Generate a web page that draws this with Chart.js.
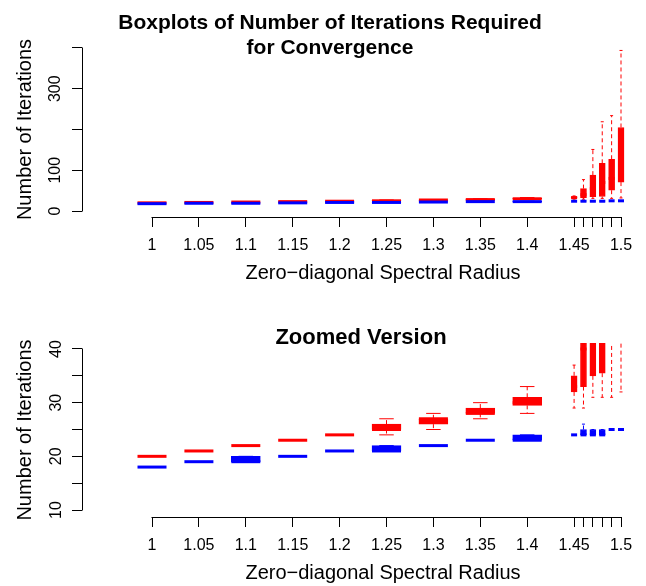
<!DOCTYPE html>
<html>
<head>
<meta charset="utf-8">
<script src="https://cdn.jsdelivr.net/npm/chart.js@4.4.1/dist/chart.umd.min.js"></script>
<style>
html, body { margin: 0; padding: 0; background: #fff; overflow: hidden; width: 646px; height: 586px; }
#wrap { position: relative; width: 646px; height: 586px; overflow: hidden; }
canvas { position: absolute; left: 0; }
#c1 { top: 0; }
#c2 { top: 293px; }
</style>
</head>
<body>
<div id="wrap">
  <canvas id="c1" width="684" height="293"></canvas>
  <canvas id="c2" width="684" height="293"></canvas>
</div>
<script>
// ---- data ----
const radii = [1, 1.05, 1.1, 1.15, 1.2, 1.25, 1.3, 1.35, 1.4, 1.45, 1.46, 1.47, 1.48, 1.49, 1.5];
const radiusLabels = ['1', '1.05', '1.1', '1.15', '1.2', '1.25', '1.3', '1.35', '1.4', '1.45', '', '', '', '', '1.5'];

// red series: five-number summaries
const redMin = [20, 21, 22, 23, 24, 24, 25, 27, 28, 29, 29, 31, 31, 31, 32];
const redQ1  = [20, 21, 22, 23, 24, 25, 26, 28, 29.5, 32, 33, 35, 35.5, 51, 71];
const redMed = [20, 21, 22, 23, 24, 25, 27, 28, 30, 33, 40, 55, 70, 80, 120];
const redQ3  = [20, 21, 22, 23, 24, 26, 27, 29, 31, 35, 55, 88, 117, 127, 205];
const redMax = [20, 21, 22, 23, 24, 27, 28, 30, 33, 37, 77, 151, 219, 234, 394];

// blue series: five-number summaries
const blueMin = [18, 19, 19, 20, 21, 21, 22, 23, 23, 24, 24, 24, 24, 25, 25];
const blueQ1  = [18, 19, 19, 20, 21, 21, 22, 23, 23, 24, 24, 24, 24, 25, 25];
const blueMed = [18, 19, 19, 20, 21, 21, 22, 23, 23, 24, 24, 24, 24, 25, 25];
const blueQ3  = [18, 19, 20, 20, 21, 22, 22, 23, 24, 24, 25, 25, 25, 25, 25];
const blueMax = [18, 19, 20, 20, 21, 22, 22, 23, 24, 24, 26, 25, 25, 25, 25];

const yTicksTop = [0, 100, 200, 300, 400];
const yLabelsTop = ['0', '100', '', '300', ''];
const yTicksZoom = [10, 15, 20, 25, 30, 35, 40];
const yLabelsZoom = ['10', '', '20', '', '30', '', '40'];

// ---- styling ----
const RED = '#FF0000';
const BLUE = '#0000FF';
const WIDE_COUNT = 9;
Chart.defaults.font.family = "'Liberation Sans', Arial, Helvetica, sans-serif";
Chart.defaults.color = '#000';

function boxDatasets(color, mins, q1s, meds, q3s, maxs, order) {
  const all = radii.map((r, i) => i);
  const groups = [
    { idx: all.filter(i => i < WIDE_COUNT), w: 29 },
    { idx: all.filter(i => i >= WIDE_COUNT), w: 6 }
  ];
  const sets = [];
  sets.push({
    type: 'line',
    data: all.flatMap(i => [
      { x: radii[i], y: q3s[i] }, { x: radii[i], y: maxs[i] }, { x: radii[i], y: null },
      { x: radii[i], y: q1s[i] }, { x: radii[i], y: mins[i] }, { x: radii[i], y: null }
    ]),
    borderColor: color, borderWidth: 1, borderDash: [4, 3],
    pointRadius: 0, spanGaps: false, fill: false, clip: 0, order
  });
  for (const g of groups) {
    sets.push({
      type: 'bar',
      data: g.idx.map(i => ({ x: radii[i], y: [q1s[i], q3s[i]] })),
      backgroundColor: color, borderColor: color, borderWidth: 1,
      borderSkipped: false, barThickness: g.w, stack: 'boxes', clip: 0, order
    });
    sets.push({
      type: 'line',
      data: g.idx.map(i => ({ x: radii[i], y: meds[i] })),
      showLine: false, pointStyle: 'line', pointRadius: g.w / 2, pointHoverRadius: g.w / 2,
      pointBorderWidth: 3, pointBorderColor: color, borderColor: color, clip: 0, order
    });
    sets.push({
      type: 'line',
      data: g.idx.flatMap(i => [{ x: radii[i], y: mins[i] }, { x: radii[i], y: maxs[i] }]),
      showLine: false, pointStyle: 'line', pointRadius: g.w / 4, pointHoverRadius: g.w / 4,
      pointBorderWidth: 1, pointBorderColor: color, borderColor: color, clip: 0, order
    });
  }
  return sets;
}

const axisLines = {
  id: 'axisLines',
  afterDraw(chart, args, opts) {
    const { ctx, chartArea, scales } = chart;
    const al = (p) => Math.round(p - 0.5) + 0.5;
    ctx.save();
    ctx.strokeStyle = '#000';
    ctx.lineWidth = 1;
    ctx.beginPath();
    const yl = al(chartArea.left);
    ctx.moveTo(yl, scales.y.getPixelForValue(opts.yFrom) + 0.5);
    ctx.lineTo(yl, scales.y.getPixelForValue(opts.yTo) - 0.5);
    const xb = al(chartArea.bottom);
    ctx.moveTo(scales.x.getPixelForValue(radii[0]) - 0.5, xb);
    ctx.lineTo(scales.x.getPixelForValue(radii[radii.length - 1]) + 0.5, xb);
    ctx.stroke();
    ctx.restore();
  }
};

function makeChart(canvasId, cfg) {
  const datasets = [
    ...boxDatasets(BLUE, blueMin, blueQ1, blueMed, blueQ3, blueMax, 1),
    ...boxDatasets(RED, redMin, redQ1, redMed, redQ3, redMax, 2)
  ];
  return new Chart(document.getElementById(canvasId), {
    type: 'bar',
    data: { datasets },
    plugins: [axisLines],
    options: {
      responsive: false,
      animation: false,
      events: [],
      layout: { autoPadding: false, padding: { left: cfg.padLeft, right: 0, top: 0, bottom: 0 } },
      plugins: {
        legend: { display: false },
        tooltip: { enabled: false },
        title: {
          display: true, text: cfg.title, color: '#000', fullSize: true,
          font: { size: cfg.titleSize, weight: 'bold', lineHeight: 25 / cfg.titleSize },
          padding: cfg.titlePad
        },
        axisLines: { yFrom: cfg.yTicks[0], yTo: cfg.yTicks[cfg.yTicks.length - 1] }
      },
      scales: {
        x: {
          type: 'linear', min: 0.92537, max: 1.56716, offset: false,
          afterFit: (s) => { s.height = cfg.xAxisHeight; },
          afterBuildTicks: (s) => { s.ticks = radii.map(v => ({ value: v })); },
          border: { display: false },
          grid: { drawOnChartArea: false, drawTicks: true, tickLength: 10, color: '#000', lineWidth: 1, offset: false },
          ticks: {
            autoSkip: false, minRotation: 0, maxRotation: 0, padding: 9,
            font: { size: 16 }, color: '#000',
            callback: (v, i) => radiusLabels[i]
          },
          title: {
            display: true, text: 'Zero\u2212diagonal Spectral Radius', color: '#000',
            font: { size: 20 }, padding: { top: 0, bottom: cfg.xTitlePadBottom }
          }
        },
        y: {
          type: 'linear', min: cfg.yMin, max: cfg.yMax, stacked: false,
          afterFit: (s) => { s.width = cfg.yAxisWidth; },
          afterBuildTicks: (s) => { s.ticks = cfg.yTicks.map(v => ({ value: v })); },
          border: { display: false },
          grid: { drawOnChartArea: false, drawTicks: true, tickLength: 10, color: '#000', lineWidth: 1 },
          ticks: {
            autoSkip: false, minRotation: 90, maxRotation: 90, crossAlign: 'center',
            padding: cfg.yTickPad, font: { size: 16 }, color: '#000',
            callback: (v, i) => cfg.yLabels[i]
          },
          title: {
            display: true, text: 'Number of Iterations', color: '#000',
            font: { size: 20 }, padding: { top: cfg.yTitlePadTop, bottom: 0 }
          }
        }
      }
    }
  });
}

makeChart('c1', {
  title: ['Boxplots of Number of Iterations Required', 'for Convergence'],
  titleSize: 21,
  titlePad: { top: 11, bottom: -19 },
  padLeft: -24,
  yAxisWidth: 106,
  yTitlePadTop: 37,
  xAxisHeight: 76,
  xTitlePadBottom: 8,
  yMin: -14.72, yMax: 414.72,
  yTicks: yTicksTop, yLabels: yLabelsTop,
  yTickPad: 3
});

makeChart('c2', {
  title: 'Zoomed Version',
  titleSize: 22,
  titlePad: { top: 32.5, bottom: -7.5 },
  padLeft: 38,
  yAxisWidth: 44,
  yTitlePadTop: -25,
  xAxisHeight: 69,
  xTitlePadBottom: 1,
  yMin: 8.6957, yMax: 41.118,
  yTicks: yTicksZoom, yLabels: yLabelsZoom,
  yTickPad: 7
});
</script>
</body>
</html>
